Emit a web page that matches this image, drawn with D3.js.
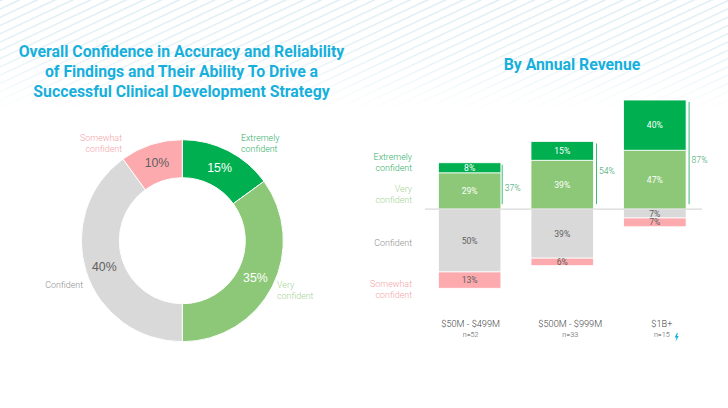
<!DOCTYPE html>
<html><head><meta charset="utf-8">
<script src="https://cdn.jsdelivr.net/npm/d3@7"></script>
<style>html,body{margin:0;padding:0;background:#fff;overflow:hidden}text{font-family:Roboto,sans-serif}</style>
</head><body><svg id="c" width="728" height="408"></svg>
<script>
const levels = ["Extremely confident","Very confident","Confident","Somewhat confident"];
const overall = [15,35,40,10];
const revenue = ["$50M - $499M","$500M - $999M","$1B+"];
const sizes = ["n=52","n=33","n=15"];
const extremely = [8,15,40];
const very = [29,39,47];
const confident = [50,39,7];
const somewhat = [13,6,7];
const totals = [37,54,87];
const colors = ["#00b050","#8cc878","#d9d9d9","#fdaaae"];
const labelColors = ["#2fae68","#a5d296","#8f8f8f","#f4a3a8"];
const valueColors = ["#fff","#fff","#5f5f5f","#5f5f5f"];
const titleLines = ["Overall Confidence in Accuracy and Reliability","of Findings and Their Ability To Drive a","Successful Clinical Development Strategy"];

const svg = d3.select("#c");
const defs = svg.append("defs");
const pat = defs.append("pattern").attr("id","st").attr("patternUnits","userSpaceOnUse")
  .attr("width",60).attr("height",7.5).attr("patternTransform","rotate(-25)");
pat.append("rect").attr("width",60).attr("height",1.3).attr("fill","#d8ebf1");
const grad = defs.append("linearGradient").attr("id","fade").attr("x1",0).attr("y1",0).attr("x2",0).attr("y2",1);
grad.append("stop").attr("offset",0).attr("stop-color","#fff").attr("stop-opacity",1);
grad.append("stop").attr("offset",0.5).attr("stop-color","#fff").attr("stop-opacity",0.75);
grad.append("stop").attr("offset",1).attr("stop-color","#fff").attr("stop-opacity",0);
defs.append("mask").attr("id","m").append("rect").attr("width",728).attr("height",112).attr("fill","url(#fade)");
svg.append("rect").attr("width",728).attr("height",112).attr("fill","url(#st)").attr("mask","url(#m)");

const title = svg.append("g").attr("font-weight",700).attr("fill","#17afdc").attr("text-anchor","middle");
title.selectAll("text").data(titleLines).join("text")
  .attr("x",181.5).attr("y",(d,i)=>57+i*20).attr("font-size",15.8).text(d=>d);
svg.append("text").attr("x",572).attr("y",70).attr("text-anchor","middle").attr("font-weight",700)
  .attr("font-size",15.8).attr("fill","#17afdc").text("By Annual Revenue");

// donut
const donut = svg.append("g").attr("transform","translate(182.3,240.7)");
const pie = d3.pie().sort(null)(overall);
const arc = d3.arc().innerRadius(63).outerRadius(101);
donut.selectAll("path").data(pie).join("path").attr("d",arc)
  .attr("fill",(d,i)=>colors[i]).attr("stroke","#fff").attr("stroke-width",1);
donut.selectAll("text.v").data(pie).join("text").attr("class","v")
  .attr("x",d=>d3.pointRadial((d.startAngle+d.endAngle)/2,82)[0])
  .attr("y",d=>d3.pointRadial((d.startAngle+d.endAngle)/2,82)[1]+4.5)
  .attr("text-anchor","middle").attr("font-size",12.3)
  .style("font-family","'Liberation Sans',sans-serif")
  .attr("fill",(d,i)=>valueColors[i]).text(d=>d.value+"%");
const small = (g,x,y,lines,anchor,col,size)=>{
  lines.forEach((l,i)=>g.append("text").attr("x",x).attr("y",y+i*11).attr("text-anchor",anchor)
    .attr("font-size",size).attr("font-weight",300).attr("fill",col).text(l));
};
small(svg,241,141,["Extremely","confident"],"start",labelColors[0],8.9);
small(svg,277,288,["Very","confident"],"start",labelColors[1],8.9);
small(svg,83,288,["Confident"],"end",labelColors[2],8.9);
small(svg,122,141,["Somewhat","confident"],"end",labelColors[3],8.9);

// stacked bars
const x = d3.scaleBand().domain(revenue).range([424.5,700]).paddingInner(0.325).paddingOuter(0.15);
const y = d3.scaleLinear().domain([-100,100]).range([208.7+126,208.7-125]);
const up = [very,extremely], down=[confident,somewhat];
const bars = svg.append("g");
function segs(rows, sign, idx){
  rows.forEach((row,k)=>{
    row.forEach((v,i)=>{
      const before = d3.sum(rows.slice(0,k),r=>r[i]);
      const a=y(sign*before), b=y(sign*(before+v));
      const top=Math.min(a,b), h=Math.abs(a-b);
      bars.append("rect").attr("x",x(revenue[i])).attr("y",top).attr("width",x.bandwidth()).attr("height",h)
        .attr("fill",colors[idx[k]]).attr("stroke","#fff").attr("stroke-width",0.8);
      bars.append("text").attr("x",x(revenue[i])+x.bandwidth()/2).attr("y",top+h/2+3)
        .attr("text-anchor","middle").attr("font-size",8.6).attr("font-weight",400)
        .attr("fill",valueColors[idx[k]]).text(v+"%");
    });
  });
}
segs(up,1,[1,0]); segs(down,-1,[2,3]);
svg.append("line").attr("x1",425).attr("x2",702).attr("y1",y(0)).attr("y2",y(0)).attr("stroke","#d9d9d9").attr("stroke-width",1.3);
const bracketGap = [1.3,3,3];
const totalDy = [5,-1,8];
const captionDx = [1,8,7];
revenue.forEach((r,i)=>{
  const bx=x(r)+x.bandwidth()+bracketGap[i];
  svg.append("line").attr("x1",bx).attr("x2",bx).attr("y1",y(totals[i])+2).attr("y2",y(0)-5)
    .attr("stroke","#3dbb77").attr("stroke-width",1);
  svg.append("text").attr("x",bx+2.5).attr("y",(y(totals[i])+y(0))/2+totalDy[i]).attr("font-size",8.6).attr("font-weight",300).attr("fill","#2f9e62").text(totals[i]+"%");
  const cx=x(r)+x.bandwidth()/2+captionDx[i];
  svg.append("text").attr("x",cx).attr("y",327).attr("text-anchor","middle").attr("font-size",9.2).attr("font-weight",300).attr("fill","#444").text(r);
  svg.append("text").attr("x",cx).attr("y",337).attr("text-anchor","middle").attr("font-size",7.2).attr("font-weight",300).attr("fill","#555").text(sizes[i]);
});
small(svg,412,160,["Extremely","confident"],"end",labelColors[0],8.9);
small(svg,412,192,["Very","confident"],"end",labelColors[1],8.9);
small(svg,412,246,["Confident"],"end",labelColors[2],8.9);
small(svg,412,287,["Somewhat","confident"],"end",labelColors[3],8.9);
// bolt mark
svg.append("path").attr("d","M677 333 L674.6 337.4 L676.4 337.4 L675.6 341.5 L678.8 336 L676.9 336 L678 333 Z").attr("fill","#17afdc");
</script></body></html>
